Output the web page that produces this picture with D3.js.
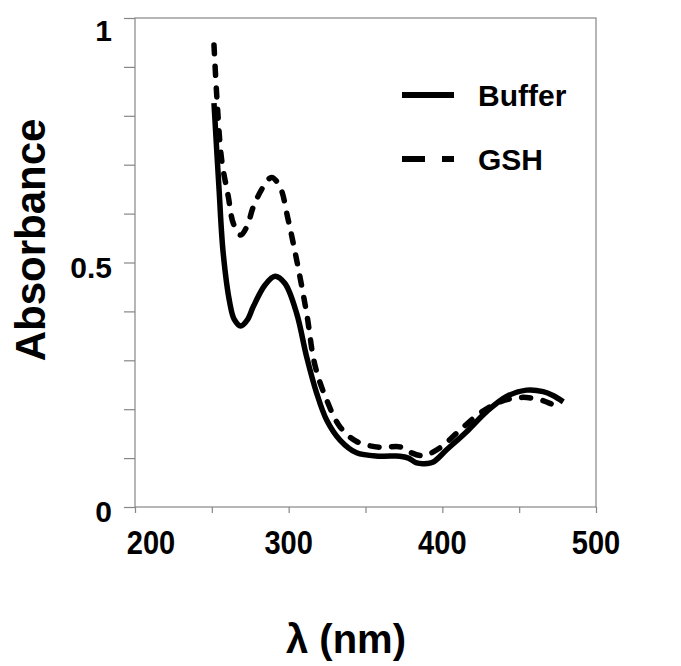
<!DOCTYPE html>
<meta charset="utf-8">
<style>
  body { margin: 0; background: #fff; }
  text { font-family: "Liberation Sans", Arial, sans-serif; font-weight: bold; fill: #000; }
</style>
<body>
  <div id="chart"></div>
  <script src="https://d3js.org/d3.v7.min.js"></script>
  <script>
    // wavelengths (nm) and absorbance
    var bufferNm = [251.4, 254.6, 257.4, 261.7, 264.5, 268.8, 273, 277, 284.6, 291.1, 297.6, 305.2, 311.7,
      318.2, 324.7, 333.4, 344.2, 359.4, 372.4, 378, 383.3, 390, 394.1, 402.8, 415.8, 428.8, 441.8,
      454.8, 465.6, 472, 478.7];
    var bufferAbs = [0.826, 0.655, 0.519, 0.417, 0.384, 0.370, 0.382, 0.41, 0.454, 0.472, 0.457, 0.396, 0.307,
      0.233, 0.178, 0.137, 0.111, 0.104, 0.104, 0.100, 0.090, 0.089, 0.092, 0.117, 0.154, 0.195, 0.226,
      0.239, 0.236, 0.228, 0.215];

    var gshNm = [251.4, 253.5, 256.4, 260.7, 264, 268.8, 273, 277, 283.5, 288.9, 294.3, 299.7, 305.2,
      311.7, 317.1, 324.7, 333.4, 344.2, 359.4, 372.4, 378.9, 387.6, 398.4, 411.4, 424.5, 437.5,
      450.5, 461.4, 470, 476.5];
    var gshAbs = [0.945, 0.826, 0.71, 0.635, 0.58, 0.556, 0.575, 0.614, 0.655, 0.674, 0.655, 0.587, 0.505,
      0.396, 0.29, 0.219, 0.164, 0.134, 0.122, 0.123, 0.112, 0.105, 0.121, 0.157, 0.192, 0.215,
      0.224, 0.221, 0.212, 0.202];

    var seriesNames = ["Buffer", "GSH"];
    var xTicks = [200, 300, 400, 500];
    var yTicks = [0, 0.5, 1];

    var width = 681, height = 666;
    var plotL = 135, plotR = 596, plotT = 18, plotB = 507;

    var x = d3.scaleLinear().domain([200, 500]).range([plotL, plotR]);
    var y = d3.scaleLinear().domain([0, 1]).range([plotB, plotT]);

    var svg = d3.select("#chart").append("svg")
      .attr("width", width)
      .attr("height", height)
      .style("background", "#fff");

    // plot frame
    svg.append("rect")
      .attr("x", plotL).attr("y", plotT)
      .attr("width", plotR - plotL).attr("height", plotB - plotT)
      .attr("fill", "none")
      .attr("stroke", "#868686")
      .attr("stroke-width", 1.2);

    // y axis: minor ticks every 0.1, labels at 0, 0.5, 1
    var yAxis = svg.append("g")
      .attr("transform", "translate(" + plotL + ",0)")
      .call(d3.axisLeft(y).ticks(10).tickSize(11).tickFormat(""));
    yAxis.select(".domain").remove();
    yAxis.selectAll("line").attr("stroke", "#868686").attr("stroke-width", 1.2);

    svg.selectAll(".ylab")
      .data(yTicks)
      .enter().append("text")
      .attr("class", "ylab")
      .attr("x", 112)
      .attr("y", function(d) { return y(d); })
      .attr("dy", function(d) { return d === 1 ? "0.75em" : "0.5em"; })
      .attr("text-anchor", "end")
      .style("font-size", "30px")
      .text(function(d) { return d; });

    // x axis: ticks every 50
    var xAxis = svg.append("g")
      .attr("transform", "translate(0," + plotB + ")")
      .call(d3.axisBottom(x).ticks(6).tickSize(6).tickFormat(""));
    xAxis.select(".domain").remove();
    xAxis.selectAll("line").attr("stroke", "#868686").attr("stroke-width", 1.2);

    // tick labels are a bit narrow and tall in the original
    svg.selectAll(".xlab")
      .data(xTicks)
      .enter().append("g")
      .attr("class", "xlab")
      .attr("transform", function(d) {
        return "translate(" + (x(d) + (d === 200 ? 16 : 0)) + "," + (plotB + 47) + ") scale(0.88,1)";
      })
      .append("text")
      .attr("text-anchor", "middle")
      .style("font-size", "33px")
      .text(function(d) { return d; });

    // axis titles
    svg.append("text")
      .attr("transform", "translate(45,240) rotate(-90)")
      .attr("text-anchor", "middle")
      .style("font-size", "42px")
      .text("Absorbance");

    svg.append("text")
      .attr("x", 346)
      .attr("y", 653)
      .attr("text-anchor", "middle")
      .style("font-size", "40px")
      .text("\u03bb (nm)");

    // spectra
    var line = d3.line()
      .x(function(d) { return x(d[0]); })
      .y(function(d) { return y(d[1]); })
      .curve(d3.curveCatmullRom.alpha(0.5));

    var buffer = d3.zip(bufferNm, bufferAbs);
    var gsh = d3.zip(gshNm, gshAbs);

    svg.append("path")
      .datum(buffer)
      .attr("d", line)
      .attr("fill", "none")
      .attr("stroke", "#000")
      .attr("stroke-width", 5.5)
      .attr("stroke-linejoin", "round");

    svg.append("path")
      .datum(gsh)
      .attr("d", line)
      .attr("fill", "none")
      .attr("stroke", "#000")
      .attr("stroke-width", 5.5)
      .attr("stroke-linecap", "round")
      .attr("stroke-dasharray", "9,12.5");

    // legend
    var legend = svg.selectAll(".legend")
      .data(seriesNames)
      .enter().append("g")
      .attr("class", "legend")
      .attr("transform", function(d, i) { return "translate(402," + (95 + i * 64) + ")"; });

    legend.append("line")
      .attr("x1", 0).attr("x2", 52)
      .attr("y1", 0).attr("y2", 0)
      .attr("stroke", "#000")
      .attr("stroke-width", 6)
      .attr("stroke-dasharray", function(d, i) { return i === 1 ? "23,17" : null; });

    legend.append("text")
      .attr("x", 76)
      .attr("y", 11)
      .style("font-size", "30px")
      .text(function(d) { return d; });
  </script>
</body>
